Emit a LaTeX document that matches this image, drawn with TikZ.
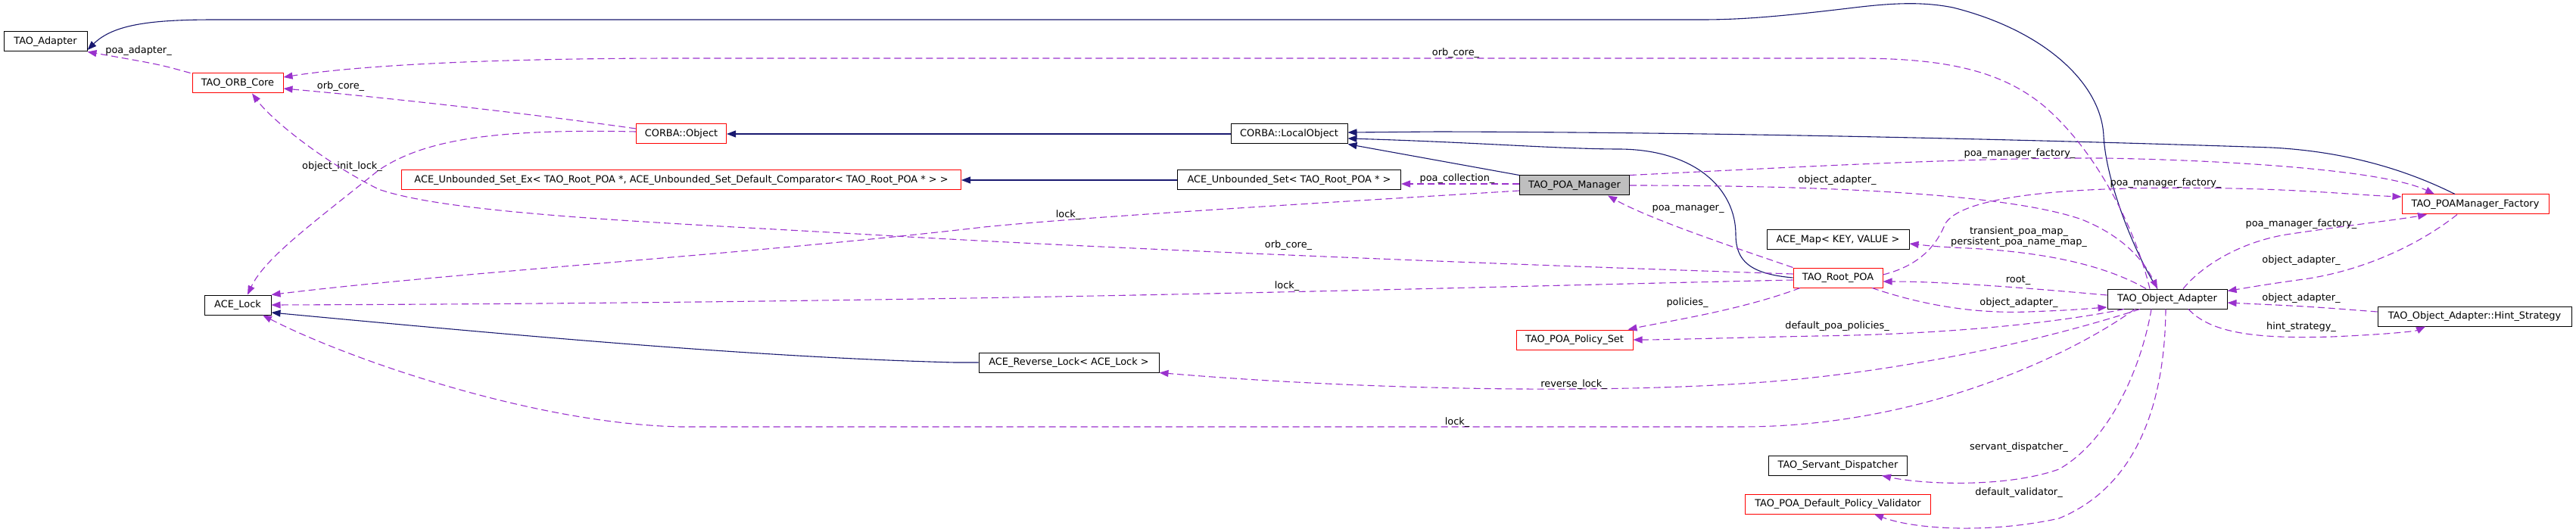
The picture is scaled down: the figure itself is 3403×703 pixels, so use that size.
\documentclass[tikz,border=0pt]{standalone}
\usepackage{fontspec}
\setmainfont{DejaVu Sans}
\usetikzlibrary{arrows.meta}
\definecolor{navy}{HTML}{191970}
\definecolor{orchid}{HTML}{9A32CD}
\definecolor{boxgrey}{HTML}{BFBFBF}
\begin{document}
\begin{tikzpicture}[x=1pt,y=-1pt,
  font=\fontsize{12.9}{14}\selectfont,
  cls/.style={draw, line width=1pt, minimum height=26pt, inner sep=0pt},
  redbox/.style={cls, draw=red},
  blkbox/.style={cls, draw=black},
  inh/.style={navy, line width=1.1pt, -{Triangle[length=12pt,width=9pt]}},
  mem/.style={orchid, line width=1.1pt, dash pattern=on 9pt off 5pt, -{Triangle[length=12pt,width=9pt]}},
  lbl/.style={inner sep=0pt, text=black}]
\useasboundingbox (0,0) rectangle (3403,703);
\fill[white] (0,0) rectangle (3403,703);
% classes
\node[blkbox, minimum width=110pt] (adapter) at (60,55) {TAO\_Adapter};
\node[redbox, minimum width=120pt] (orbcore) at (314,110) {TAO\_ORB\_Core};
\node[redbox, minimum width=119pt] (corbaobj) at (900,177) {CORBA::Object};
\node[redbox, minimum width=739pt] (unbex) at (900,238) {ACE\_Unbounded\_Set\_Ex< TAO\_Root\_POA *, ACE\_Unbounded\_Set\_Default\_Comparator< TAO\_Root\_POA * > >};
\node[blkbox, minimum width=88pt] (lock) at (314,403) {ACE\_Lock};
\node[blkbox, minimum width=154pt] (localobj) at (1703,177) {CORBA::LocalObject};
\node[blkbox, minimum width=295pt] (unbset) at (1703,238) {ACE\_Unbounded\_Set< TAO\_Root\_POA * >};
\node[blkbox, fill=boxgrey, minimum width=145pt] (poamgr) at (2080,245) {TAO\_POA\_Manager};
\node[blkbox, minimum width=188pt] (acemap) at (2428,317) {ACE\_Map< KEY, VALUE >};
\node[redbox, minimum width=118pt] (rootpoa) at (2428,367) {TAO\_Root\_POA};
\node[redbox, minimum width=154pt] (polset) at (2080,449) {TAO\_POA\_Policy\_Set};
\node[blkbox, minimum width=238pt] (revlock) at (1412,479) {ACE\_Reverse\_Lock< ACE\_Lock >};
\node[blkbox, minimum width=158pt] (oa) at (2863,395) {TAO\_Object\_Adapter};
\node[redbox, minimum width=194pt] (factory) at (3270,270) {TAO\_POAManager\_Factory};
\node[blkbox, minimum width=256pt] (hint) at (3269,418) {TAO\_Object\_Adapter::Hint\_Strategy};
\node[blkbox, minimum width=183pt] (servant) at (2428,615) {TAO\_Servant\_Dispatcher};
\node[redbox, minimum width=245pt] (validator) at (2428,666) {TAO\_POA\_Default\_Policy\_Validator};
% inheritance
\draw[inh] (localobj) -- (corbaobj);
\draw[inh] (poamgr.north west) -- (localobj.south east);
\draw[inh] (rootpoa.west) .. controls (2312,362) and (2293,345) .. (2293,310)
  .. controls (2293,250) and (2240,198) .. (2140,197)
  .. controls (2060,197) and (1950,188) .. ([yshift=-6pt]localobj.east);
\draw[inh] ([xshift=-13pt]oa.north) .. controls (2820,335) and (2782,240) .. (2779,180)
  .. controls (2776,110) and (2700,40) .. (2580,10)
  .. controls (2540,2) and (2500,4) .. (2450,10)
  .. controls (2350,22) and (2300,26) .. (2248,26) -- (285,26)
  .. controls (200,26) and (150,32) .. ([yshift=-11pt]adapter.east);
\draw[inh] ([xshift=-27pt]factory.north) .. controls (3180,225) and (3100,200) .. (3000,195)
  .. controls (2700,185) and (2300,175) .. (1900,174) -- ([yshift=2pt]localobj.east);
\draw[inh] (unbset) -- (unbex);
\draw[inh] (revlock.west) -- (1261,479) .. controls (1000,472) and (700,445) .. ([yshift=-10pt]lock.east);
% members
\draw[mem] ([xshift=-2pt]orbcore.north west) .. controls (210,85) .. (adapter.south east);
\node[lbl] (l1) at (183,67) {poa\_adapter\_};
\draw[mem] ([yshift=7pt]corbaobj.west) .. controls (700,150) and (500,128) .. ([yshift=-7pt]orbcore.east);
\node[lbl] (l2) at (450,114) {orb\_core\_};
\draw[mem] ([xshift=-23pt]oa.north) .. controls (2820,300) and (2770,200) .. (2700,140)
  .. controls (2640,90) and (2560,77) .. (2450,77) -- (900,77)
  .. controls (600,77) and (450,90) .. ([yshift=8pt]orbcore.east);
\node[lbl] (l3) at (1923,70) {orb\_core\_};
\draw[mem] ([yshift=3pt]corbaobj.west) .. controls (650,170) and (560,185) .. (500,225)
  .. controls (420,290) and (350,340) .. ([xshift=13pt]lock.north);
\node[lbl] (l4) at (452,220) {object\_init\_lock\_};
\draw[mem] ([yshift=5pt]rootpoa.west) .. controls (2000,350) and (1500,330) .. (1200,313)
  .. controls (900,295) and (600,285) .. (500,250)
  .. controls (430,215) and (360,160) .. ([xshift=19pt]orbcore.south);
\node[lbl] (l5) at (1702,324) {orb\_core\_};
\draw[mem] ([yshift=-7pt]poamgr.west) .. controls (1800,265) and (1450,285) .. (1300,300)
  .. controls (1000,335) and (600,360) .. (lock.north east);
\node[lbl] (l6) at (1411,284) {lock\_};
\draw[mem] ([yshift=-3pt]rootpoa.west) .. controls (1900,380) and (1300,400) .. (lock.east);
\node[lbl] (l7) at (1700,378) {lock\_};
\draw[mem] ([xshift=-43pt]oa.south) .. controls (2750,460) and (2550,564) .. (2300,564) -- (900,564)
  .. controls (700,560) and (450,470) .. ([xshift=33pt]lock.south);
\node[lbl] (l8) at (1925,558) {lock\_};
\draw[mem] ([yshift=2pt]poamgr.west) -- ([yshift=-5pt]unbset.east);
\node[lbl] (l9) at (1925,236) {poa\_collection\_};
\draw[mem] (rootpoa.north west) .. controls (2300,330) and (2180,290) .. ([xshift=44pt]poamgr.south);
\node[lbl] (l10) at (2230,276) {poa\_manager\_};
\draw[mem] (poamgr.north east) .. controls (2350,222) and (2600,208) .. (2780,209)
  .. controls (2950,212) and (3150,225) .. ([xshift=-54pt]factory.north);
\node[lbl] (l11) at (2668,203) {poa\_manager\_factory\_};
\draw[mem] (poamgr.east) .. controls (2400,245) and (2650,255) .. (2750,290)
  .. controls (2800,310) and (2830,340) .. ([xshift=-13pt]oa.north);
\node[lbl] (l12) at (2427,238) {object\_adapter\_};
\draw[mem] ([yshift=4pt]rootpoa.east) .. controls (2540,350) and (2560,320) .. (2570,295)
  .. controls (2600,250) and (2800,246) .. (2950,249)
  .. controls (3050,251) and (3120,258) .. ([yshift=10pt]factory.west);
\node[lbl] (l13) at (2861,242) {poa\_manager\_factory\_};
\draw[mem] ([xshift=21pt]oa.north) .. controls (2910,350) and (2960,320) .. (3020,310)
  .. controls (3100,298) and (3170,290) .. ([xshift=-64pt]factory.south);
\node[lbl] (l14) at (3040,296) {poa\_manager\_factory\_};
\draw[mem] ([xshift=-24pt]factory.south) .. controls (3200,320) and (3130,355) .. (3050,368)
  .. controls (3000,375) .. ([yshift=-3pt]oa.north east);
\node[lbl] (l15) at (3040,344) {object\_adapter\_};
\draw[mem] ([yshift=6pt]hint.west) .. controls (3050,405) .. ([yshift=-5pt]oa.east);
\node[lbl] (l16) at (3040,394) {object\_adapter\_};
\draw[mem] ([xshift=28pt]oa.south) .. controls (2920,440) and (2980,448) .. (3080,445)
  .. controls (3150,442) and (3190,438) .. ([xshift=-65pt]hint.south);
\node[lbl] (l17) at (3040,432) {hint\_strategy\_};
\draw[mem] ([yshift=5pt]oa.west) .. controls (2650,378) and (2560,372) .. ([yshift=-5pt]rootpoa.east);
\node[lbl] (l18) at (2666,370) {root\_};
\draw[mem] ([xshift=45pt]rootpoa.south) .. controls (2530,400) and (2600,415) .. (2680,412)
  .. controls (2730,410) .. ([yshift=-11pt]oa.west);
\node[lbl] (l19) at (2667,400) {object\_adapter\_};
\draw[mem] ([xshift=-28pt]oa.north) .. controls (2780,350) and (2700,333) .. (2600,328)
  .. controls (2560,326) .. ([yshift=-5pt]acemap.east);
\node[lbl, align=center] (l20) at (2667,313) {transient\_poa\_map\_\\persistent\_poa\_name\_map\_};
\draw[mem] ([xshift=-50pt]rootpoa.south) .. controls (2300,410) and (2200,425) .. ([xshift=-7pt]polset.north east);
\node[lbl] (l21) at (2229,400) {policies\_};
\draw[mem] ([xshift=-57pt]oa.south) .. controls (2700,430) and (2550,442) .. (2400,444)
  .. controls (2300,446) and (2200,449) .. (polset.east);
\node[lbl] (l22) at (2427,431) {default\_poa\_policies\_};
\draw[mem] ([xshift=-36pt]oa.south) .. controls (2700,450) and (2500,495) .. (2300,507)
  .. controls (2100,520) and (1800,515) .. (revlock.south east);
\node[lbl] (l23) at (2079,508) {reverse\_lock\_};
\draw[mem] ([xshift=-21pt]oa.south) .. controls (2830,480) and (2790,580) .. (2720,620)
  .. controls (2650,645) and (2540,640) .. ([xshift=58pt]servant.south);
\node[lbl] (l24) at (2667,591) {servant\_dispatcher\_};
\draw[mem] ([xshift=-2pt]oa.south) .. controls (2860,520) and (2830,640) .. (2720,685)
  .. controls (2630,705) and (2530,700) .. ([xshift=48pt]validator.south);
\node[lbl] (l25) at (2667,651) {default\_validator\_};
\end{tikzpicture}
\end{document}
